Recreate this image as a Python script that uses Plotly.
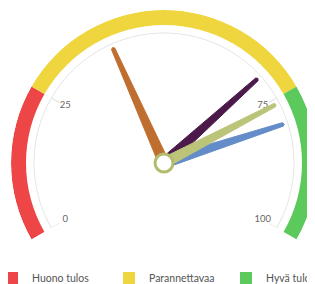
import math
import numpy as np
import plotly.graph_objects as go

# ---- data ----
band_names = ["Huono tulos", "Parannettavaa", "Hyvä tulos"]
band_from = [0, 25, 75]
band_to = [25, 75, 100]
band_colors = ["#ee4646", "#f0d63e", "#5cc95c"]

tick_values = [0, 25, 75, 100]
tick_labels = ["0", "25", "75", "100"]

needle_values = [40, 70, 80, 76]
needle_colors = ["#bf6e30", "#4b1a4b", "#648cc8", "#bcc47a"]
pivot_border = "#b3bb6c"

# ---- gauge scale: value 0..100 -> angle -120..120 (clockwise from top) ----
V_MIN, V_MAX = 0, 100
A_START, A_END = -120, 120


def ang(v):
    return A_START + (v - V_MIN) / (V_MAX - V_MIN) * (A_END - A_START)


R_BAND_IN, R_BAND_OUT = 138, 153
R_AXIS = 130
R_TICK_IN = 121
R_LABEL = 114
R_NEEDLE = 125
NEEDLE_BASE_HALF = 5.2
NEEDLE_TOP_HALF = 1.8
LEGEND_ENTRY_W = [72, 72, 55]

fig = go.Figure()

# bands
for name, f, t, c, lw in zip(band_names, band_from, band_to, band_colors, LEGEND_ENTRY_W):
    fig.add_trace(go.Barpolar(
        r=[R_BAND_OUT - R_BAND_IN], base=[R_BAND_IN],
        theta=[ang((f + t) / 2)], width=[ang(t) - ang(f)],
        marker=dict(color=c, line=dict(width=0)),
        name=name, showlegend=True, hoverinfo="skip",
        legendwidth=lw,
    ))

# axis line
arc_v = np.linspace(V_MIN, V_MAX, 241)
fig.add_trace(go.Scatterpolar(
    r=[R_AXIS] * len(arc_v), theta=[ang(v) for v in arc_v],
    mode="lines", line=dict(color="#e3e3e3", width=1),
    showlegend=False, hoverinfo="skip",
))

# ticks
tr, tt = [], []
for v in tick_values:
    tr += [R_TICK_IN, R_AXIS, None]
    tt += [ang(v), ang(v), None]
fig.add_trace(go.Scatterpolar(
    r=tr, theta=tt, mode="lines", line=dict(color="#dcdcdc", width=1),
    showlegend=False, hoverinfo="skip",
))

# tick labels
fig.add_trace(go.Scatterpolar(
    r=[R_LABEL] * len(tick_values), theta=[ang(v) for v in tick_values],
    mode="text", text=tick_labels,
    textfont=dict(family="Lato", size=9.5, color="#666666"),
    showlegend=False, hoverinfo="skip",
))

# needles


def needle(v):
    a = ang(v)
    pts = [(0, NEEDLE_BASE_HALF), (R_NEEDLE, NEEDLE_TOP_HALF), (R_NEEDLE + 1.4, 0),
           (R_NEEDLE, -NEEDLE_TOP_HALF), (0, -NEEDLE_BASE_HALF), (0, NEEDLE_BASE_HALF)]
    rr, th = [], []
    for d, p in pts:
        rr.append(math.hypot(d, p))
        th.append(a + math.degrees(math.atan2(p, d)))
    return rr, th


for v, c in zip(needle_values, needle_colors):
    rr, th = needle(v)
    fig.add_trace(go.Scatterpolar(
        r=rr, theta=th, mode="lines", fill="toself", fillcolor=c,
        line=dict(color=c, width=1), showlegend=False, hoverinfo="skip",
    ))

# pivot
fig.add_trace(go.Scatterpolar(
    r=[0], theta=[0], mode="markers",
    marker=dict(size=18, color="white", line=dict(color=pivot_border, width=3)),
    showlegend=False, hoverinfo="skip", cliponaxis=False,
))

# the page body adds an 8px offset, so figure coordinates = page coordinates - 8.
# The figure is a little wider than the 315px window so the last legend entry
# runs off the right edge, as in the reference.
W, H = 340, 284
OFF = 8
MB = 24                      # bottom margin holding the legend
PH = H - MB                  # plot-area height
cx, cy, R_px = 164 - OFF, 163 - OFF, 153
legend_y_px = 278 - OFF
fig.update_layout(
    width=W, height=H,
    margin=dict(l=0, r=0, t=0, b=MB, autoexpand=False),
    paper_bgcolor="white",
    font=dict(family="Lato", size=11, color="#444444"),
    polar=dict(
        domain=dict(x=[(cx - R_px) / W, (cx + R_px) / W],
                    y=[(PH - (cy + R_px * 0.5)) / PH, (PH - (cy - R_px)) / PH]),
        sector=[-30, 210],
        bgcolor="white",
        hole=0,
        radialaxis=dict(visible=False, range=[0, R_BAND_OUT]),
        angularaxis=dict(visible=False, rotation=90, direction="clockwise"),
    ),
    legend=dict(
        orientation="h", x=-16 / W, xanchor="left",
        y=-(legend_y_px - PH) / PH, yanchor="middle",
        font=dict(family="Lato", size=10.5, color="#555555"),
        entrywidthmode="pixels", bgcolor="rgba(0,0,0,0)",
    ),
    barmode="overlay",
)

fig.write_html("out.html")
